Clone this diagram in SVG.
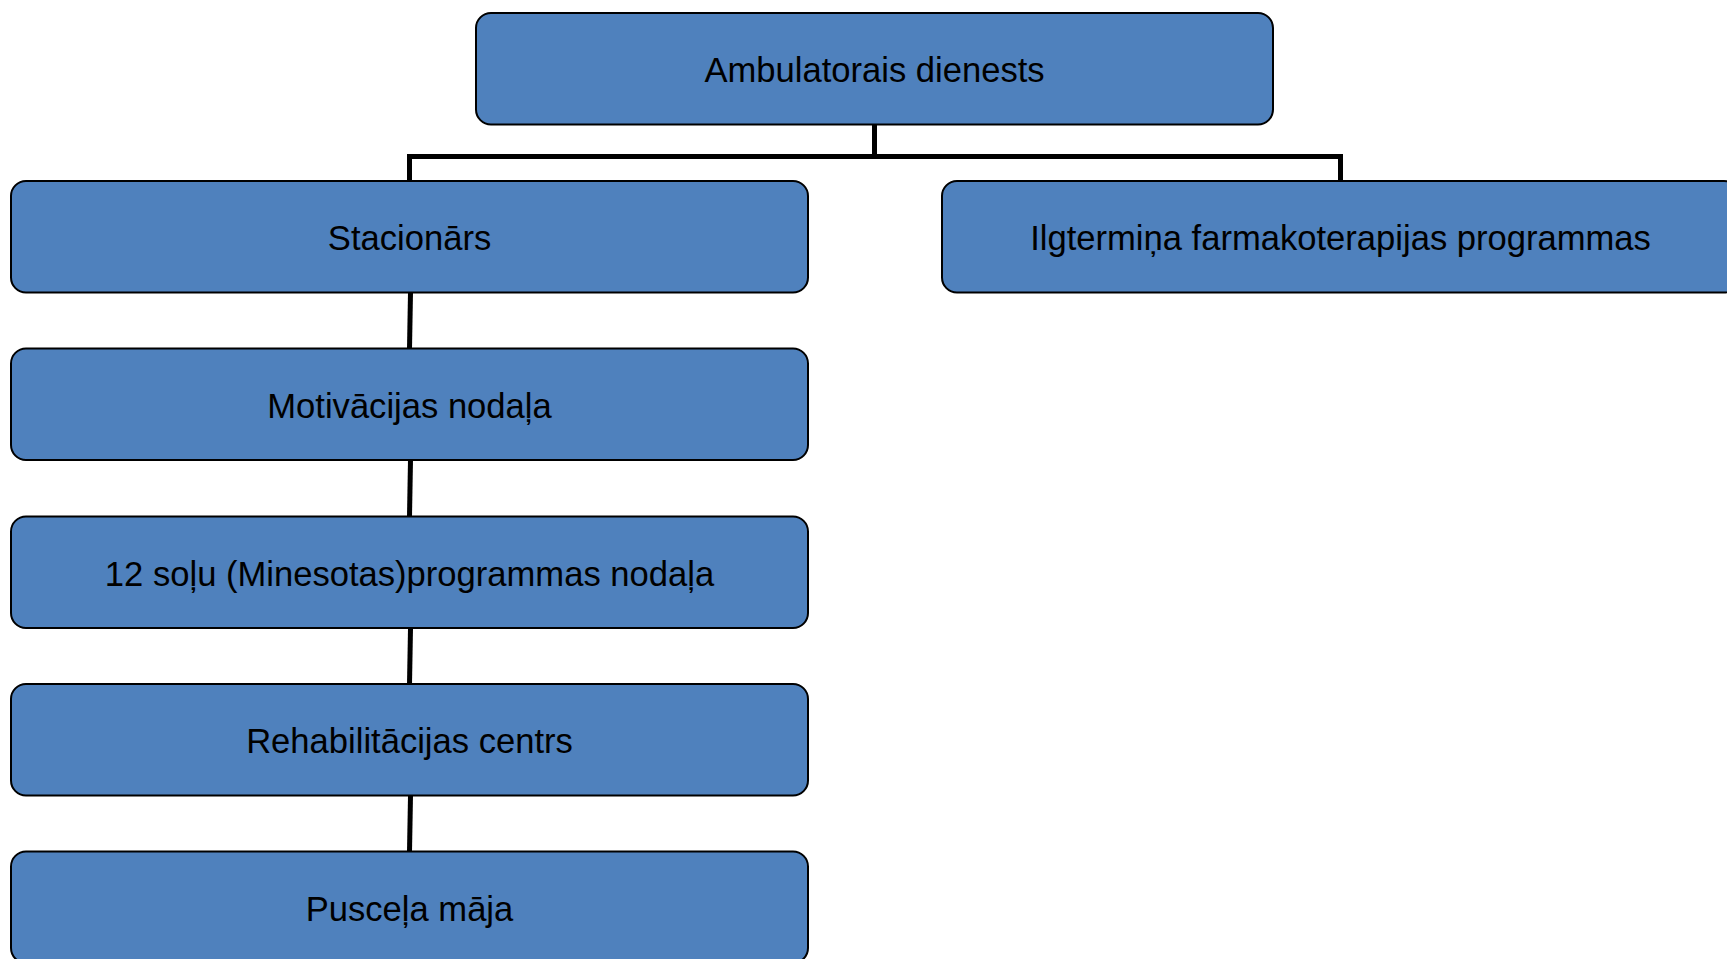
<svg xmlns="http://www.w3.org/2000/svg" width="1727" height="959" viewBox="0 0 1727 959">
<style>
.box{fill:#4F81BD;stroke:#000;stroke-width:2}
.lbl{font-family:"Liberation Sans",Arial,sans-serif;font-size:34.6px;fill:#000;text-anchor:middle}
.con{fill:none;stroke:#000;stroke-width:5}
</style>
<rect width="1727" height="959" fill="#fff"/>
<g id="connectors">
<path class="con" d="M874.5,124.5 V156.5 M409.5,156.5 H1340.5 M409.5,154 V181 M1340.5,154 V181"/>
<path class="con" d="M410.5,292.5 L409.5,348.5"/>
<path class="con" d="M410.5,460 L409.5,516.5"/>
<path class="con" d="M410.5,628.5 L409.5,684"/>
<path class="con" d="M410.5,796 L409.5,851.5"/>
</g>
<g id="n0"><rect class="box" x="476" y="13" width="797" height="111.5" rx="15"/><text class="lbl" x="874.5" y="82">Ambulatorais dienests</text></g>
<g id="n1"><rect class="box" x="11" y="181" width="797" height="111.5" rx="15"/><text class="lbl" x="409.5" y="250">Stacionārs</text></g>
<g id="n2"><rect class="box" x="942" y="181" width="797" height="111.5" rx="15"/><text class="lbl" x="1340.5" y="250">Ilgtermiņa farmakoterapijas programmas</text></g>
<g id="n3"><rect class="box" x="11" y="348.5" width="797" height="111.5" rx="15"/><text class="lbl" x="409.5" y="417.5">Motivācijas nodaļa</text></g>
<g id="n4"><rect class="box" x="11" y="516.5" width="797" height="111.5" rx="15"/><text class="lbl" x="409.5" y="585.5">12 soļu (Minesotas)programmas nodaļa</text></g>
<g id="n5"><rect class="box" x="11" y="684" width="797" height="111.5" rx="15"/><text class="lbl" x="409.5" y="753">Rehabilitācijas centrs</text></g>
<g id="n6"><rect class="box" x="11" y="851.5" width="797" height="111.5" rx="15"/><text class="lbl" x="409.5" y="920.5">Pusceļa māja</text></g>
</svg>
